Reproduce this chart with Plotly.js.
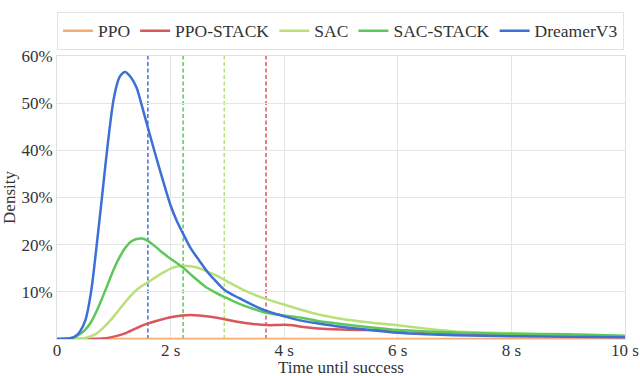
<!DOCTYPE html>
<html>
<head>
<meta charset="utf-8">
<script src="https://cdn.plot.ly/plotly-3.0.1.min.js"></script>
<style>html,body{margin:0;padding:0;background:#fff;}#chart{width:640px;height:376px;}</style>
</head>
<body>
<div id="chart"></div>
<script>
// Series names and colours
const seriesNames = ["PPO", "PPO-STACK", "SAC", "SAC-STACK", "DreamerV3"];
const seriesColors = ["#f5ac72", "#d9565a", "#b9e07a", "#5cc85a", "#3d6fd6"];

// Time (s) and density (%) per series
const ppoT = [0, 2, 4, 6, 8, 10];
const ppoD = [0, 0, 0, 0, 0, 0];

const ppoStackT = [0, 0.6, 0.8, 1.0, 1.2, 1.4, 1.6, 1.8, 2.0, 2.2, 2.35, 2.5, 2.7, 2.95, 3.2, 3.45, 3.7, 3.85, 4.0, 4.15, 4.3, 4.6, 5.0, 5.5, 6.0, 6.5, 7.0, 7.5, 8.0, 9.0, 10.0];
const ppoStackD = [0, 0, 0.1, 0.5, 1.2, 2.3, 3.3, 4.0, 4.6, 5.0, 5.1, 5.0, 4.7, 4.2, 3.6, 3.2, 2.95, 2.95, 3.0, 2.9, 2.6, 2.2, 2.0, 1.9, 1.8, 1.5, 1.1, 0.9, 0.8, 0.6, 0.4];

const sacT = [0, 0.4, 0.5, 0.6, 0.7, 0.8, 0.9, 1.0, 1.1, 1.2, 1.3, 1.4, 1.5, 1.6, 1.7, 1.8, 1.9, 2.0, 2.1, 2.2, 2.3, 2.45, 2.6, 2.8, 2.95, 3.2, 3.45, 3.7, 4.0, 4.3, 4.6, 5.0, 5.5, 6.0, 6.5, 7.0, 7.5, 8.0, 9.0, 10.0];
const sacD = [0, 0.05, 0.2, 0.6, 1.2, 2.2, 3.4, 4.8, 6.3, 7.8, 9.2, 10.4, 11.3, 12.0, 12.8, 13.6, 14.3, 14.9, 15.3, 15.5, 15.5, 15.2, 14.5, 13.5, 12.5, 10.9, 9.5, 8.4, 7.3, 6.2, 5.2, 4.3, 3.5, 2.9, 2.2, 1.6, 1.4, 1.2, 0.8, 0.6];

const sacStackT = [0, 0.2, 0.3, 0.4, 0.5, 0.6, 0.7, 0.8, 0.9, 1.0, 1.1, 1.2, 1.3, 1.4, 1.5, 1.6, 1.7, 1.8, 1.9, 2.0, 2.2, 2.4, 2.6, 2.8, 2.95, 3.2, 3.45, 3.7, 4.0, 4.3, 4.6, 5.0, 5.5, 6.0, 6.5, 7.0, 7.5, 8.0, 9.0, 10.0];
const sacStackD = [0, 0.1, 0.4, 1.0, 2.0, 3.6, 6.0, 8.8, 11.8, 14.8, 17.3, 19.3, 20.6, 21.2, 21.3, 20.8, 19.9, 18.9, 17.9, 17.0, 15.3, 13.2, 11.2, 9.8, 8.9, 7.5, 6.4, 5.5, 5.0, 4.5, 3.8, 3.2, 2.5, 1.9, 1.6, 1.4, 1.2, 1.1, 1.0, 0.7];

const dreamerT = [0, 0.2, 0.3, 0.4, 0.5, 0.6, 0.7, 0.8, 0.9, 1.0, 1.1, 1.2, 1.3, 1.4, 1.5, 1.6, 1.7, 1.8, 1.9, 2.0, 2.1, 2.2, 2.35, 2.5, 2.65, 2.8, 2.95, 3.2, 3.45, 3.7, 4.0, 4.3, 4.6, 5.0, 5.5, 6.0, 6.5, 7.0, 7.5, 8.0, 9.0, 10.0];
const dreamerD = [0, 0.1, 0.4, 1.5, 4.0, 10.0, 20.0, 31.0, 42.0, 51.0, 55.5, 56.6, 55.5, 53.3, 49.2, 44.8, 40.5, 36.3, 32.2, 28.3, 25.3, 22.8, 19.3, 16.7, 14.2, 12.2, 10.4, 8.7, 7.2, 5.9, 4.8, 3.9, 3.3, 2.6, 1.9, 1.3, 1.0, 0.8, 0.7, 0.6, 0.5, 0.35];

// Median times (s) shown as dashed lines: PPO-STACK, SAC, SAC-STACK, DreamerV3
const medianSeries = [1, 2, 3, 4];
const medianValues = [3.68, 2.945, 2.22, 1.60];

// Axis ticks
const xTickVals = [0, 2, 4, 6, 8, 10];
const xTickText = ["0", "2 s", "4 s", "6 s", "8 s", "10 s"];
const yTickVals = [0, 0.1, 0.2, 0.3, 0.4, 0.5, 0.6];
const yTickText = ["", "10%", "20%", "30%", "40%", "50%", "60%"];

const allT = [ppoT, ppoStackT, sacT, sacStackT, dreamerT];
const allD = [ppoD, ppoStackD, sacD, sacStackD, dreamerD];

const traces = seriesNames.map((name, i) => ({
  type: "scatter",
  mode: "lines",
  name: name,
  x: allT[i],
  y: allD[i].map(v => v / 100),
  line: {color: seriesColors[i], width: 2.5, shape: "spline", smoothing: 0.8},
  hoverinfo: "skip"
}));

const shapes = medianValues.map((m, k) => ({
  type: "line", xref: "x", yref: "paper",
  x0: m, x1: m, y0: 0, y1: 1,
  line: {color: seriesColors[medianSeries[k]], width: 1.5, dash: "4px,2.5px"},
  layer: "below"
}));

const fontFam = "Liberation Serif";
const txtColor = "#333";

const layout = {
  width: 640, height: 376,
  margin: {l: 57, r: 15, t: 38.5, b: 36.5},
  paper_bgcolor: "#fff", plot_bgcolor: "#fff",
  font: {family: fontFam, size: 17, color: txtColor},
  showlegend: true,
  legend: {
    orientation: "h", x: 0, xanchor: "left", y: 1.022, yanchor: "bottom",
    bordercolor: "#e3e3e3", borderwidth: 1, bgcolor: "#fff",
    font: {family: fontFam, size: 17.5, color: txtColor},
    itemwidth: 30, tracegroupgap: 0
  },
  xaxis: {
    range: [0, 10], tickvals: xTickVals, ticktext: xTickText,
    showgrid: true, gridcolor: "#e5e5e5", gridwidth: 1,
    showline: true, linecolor: "#e0e0e0", linewidth: 1, mirror: true,
    zeroline: false, ticks: "", ticklen: 0, ticklabelstandoff: -4,
    tickfont: {family: fontFam, size: 17, color: txtColor}
  },
  yaxis: {
    range: [0, 0.6], tickvals: yTickVals, ticktext: yTickText,
    showgrid: true, gridcolor: "#e5e5e5", gridwidth: 1,
    showline: true, linecolor: "#e0e0e0", linewidth: 1, mirror: true,
    zeroline: false, ticks: "",
    tickfont: {family: fontFam, size: 17, color: txtColor},
    title: {text: "Density", font: {family: fontFam, size: 17, color: txtColor}, standoff: 6}
  },
  annotations: [{
    text: "Time until success", xref: "paper", yref: "paper",
    x: 0.5, y: 0, xanchor: "center", yanchor: "top", yshift: -18, borderpad: 0,
    showarrow: false, font: {family: fontFam, size: 17, color: txtColor}
  }],
  shapes: shapes
};

Plotly.newPlot("chart", traces, layout, {displayModeBar: false, staticPlot: true});
</script>
</body>
</html>
